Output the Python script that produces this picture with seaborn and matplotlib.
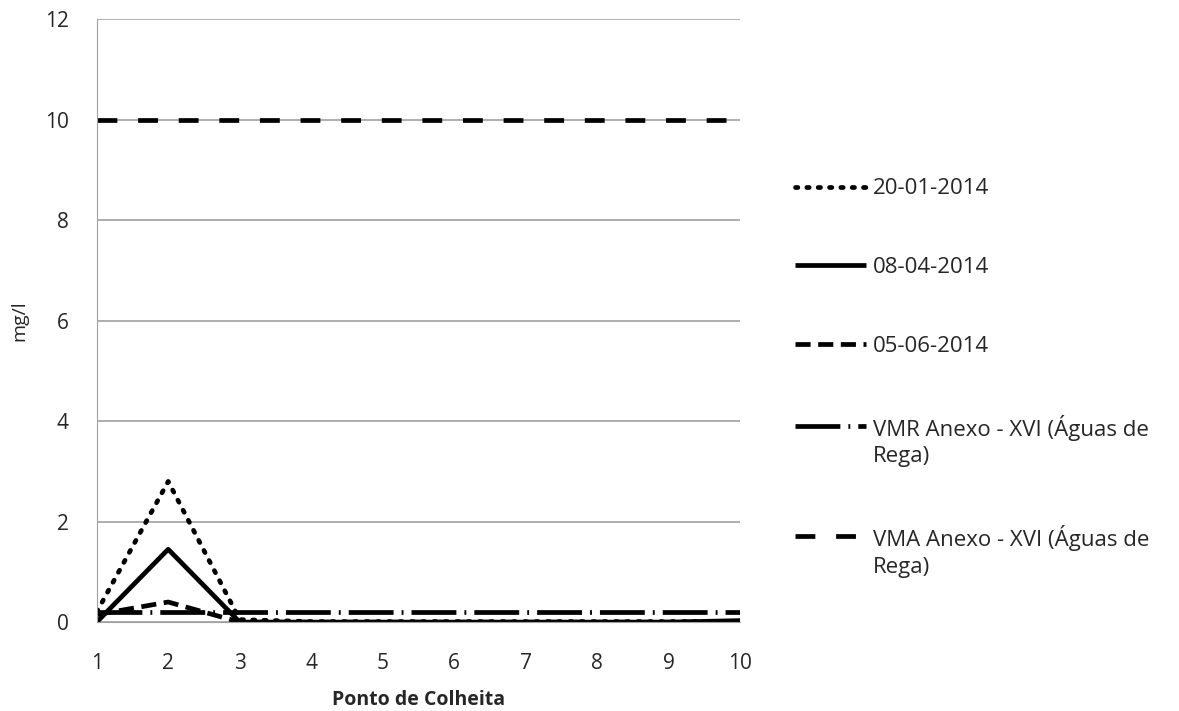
import pandas as pd
import matplotlib
matplotlib.use("Agg")
import matplotlib.pyplot as plt
import seaborn as sns

# Data
pontos = [1, 2, 3, 4, 5, 6, 7, 8, 9, 10]
jan_2014 = [0.2, 2.8, 0.05, 0.01, 0.01, 0.01, 0.01, 0.01, 0.01, 0.01]
abr_2014 = [0.0, 1.45, 0.0, 0.0, 0.0, 0.0, 0.0, 0.0, 0.0, 0.03]
jun_2014 = [0.15, 0.4, 0.0, 0.0, 0.0, 0.0, 0.0, 0.0, 0.0, 0.0]
vmr = [0.2] * 10
vma = [10] * 10

series_names = ["20-01-2014", "08-04-2014", "05-06-2014",
                "VMR Anexo - XVI (Águas de\nRega)", "VMA Anexo - XVI (Águas de\nRega)"]
series_values = [jan_2014, abr_2014, jun_2014, vmr, vma]

sns.set_style("white")
plt.rcParams['font.family'] = ['Open Sans', 'DejaVu Sans']

df = pd.DataFrame({"ponto": pontos * len(series_names),
                   "valor": sum(series_values, []),
                   "serie": [n for n in series_names for _ in pontos]})

fig, ax = plt.subplots(figsize=(11.79, 7.11), dpi=100)
fig.subplots_adjust(left=0.082, right=0.628, top=0.973, bottom=0.125)

styles = {
    series_names[0]: dict(linestyle=(0, (0.5, 1.9)), dash_capstyle="round", linewidth=3.4),
    series_names[1]: dict(linestyle="-", linewidth=3.4),
    series_names[2]: dict(linestyle=(0, (3.2, 1.6)), linewidth=3.4),
    series_names[3]: dict(linestyle=(0, (9.5, 1.7, 0.4, 1.7)), linewidth=3.4),
    series_names[4]: dict(linestyle=(0, (4.2, 4.4)), linewidth=3.4),
}

for name in series_names:
    sub = df[df["serie"] == name]
    sns.lineplot(data=sub, x="ponto", y="valor", ax=ax, color="black",
                 label=name, solid_capstyle="butt", **styles[name])

ax.set_xlim(1, 10)
ax.set_ylim(0, 12)
ax.set_xticks(pontos)
ax.set_yticks(range(0, 13, 2))
ax.yaxis.grid(True, color="#a0a0a0", linewidth=1.2)
ax.set_axisbelow(True)
for s in ["top", "right"]:
    ax.spines[s].set_visible(False)
ax.spines["left"].set_color("#a0a0a0")
ax.spines["bottom"].set_color("#a0a0a0")
ax.tick_params(axis="both", length=0, labelsize=15)
ax.tick_params(axis="x", pad=22)
ax.tick_params(axis="y", pad=20)
ax.set_xlabel("Ponto de Colheita", fontsize=14, fontweight="bold", labelpad=12)
ax.set_ylabel("mg/l", fontsize=14, labelpad=12)

leg = ax.legend(loc="center left", bbox_to_anchor=(1.071, 0.405), frameon=False,
                borderaxespad=0, fontsize=16, handlelength=3.2, labelspacing=2.6,
                handletextpad=0.3)
for t in leg.get_texts():
    t.set_linespacing(1.35)
# Excel puts the sample line level with the first line of a wrapped label
for line in leg.get_lines()[3:]:
    y = line.get_ydata()
    line.set_ydata([v + 11 for v in y])

fig.savefig("out.png", dpi=100)
